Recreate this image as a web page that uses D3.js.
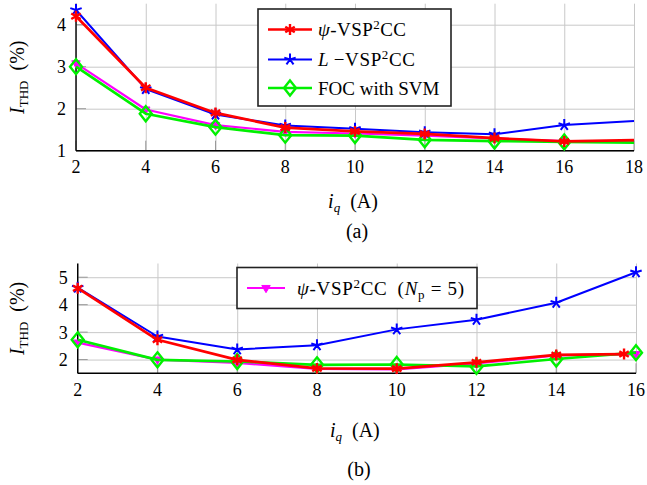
<!DOCTYPE html>
<html><head><meta charset="utf-8">
<script src="https://cdn.jsdelivr.net/npm/d3@7"></script>
<style>
body{margin:0;background:#fff}
</style></head><body>
<svg id="c" width="647" height="485"></svg>
<script>
// (a) THD versus q-axis current, 2..18 A
const xTop = [2, 4, 6, 8, 10, 12, 14, 16, 18];
const topPsi   = [4.20, 2.50, 1.90, 1.55, 1.46, 1.40, 1.30, 1.22, 1.25];
const topL     = [4.35, 2.47, 1.86, 1.60, 1.52, 1.44, 1.39, 1.61, 1.71];
const topFOC   = [3.00, 1.88, 1.56, 1.37, 1.36, 1.26, 1.23, 1.21, 1.19];
const topPsiNp = [3.08, 1.98, 1.61, 1.45, 1.41, 1.36, 1.29, 1.23, 1.21];

// (b) THD versus q-axis current, 2..16 A
const xBot = [2, 4, 6, 8, 10, 12, 14, 16];
const xBotPsi = [2, 4, 6, 8, 10, 12, 14, 15.7];
const botPsi   = [4.60, 2.72, 1.99, 1.68, 1.67, 1.90, 2.17, 2.20];
const botL     = [4.62, 2.84, 2.37, 2.52, 3.10, 3.45, 4.07, 5.18];
const botFOC   = [2.72, 1.99, 1.93, 1.81, 1.82, 1.75, 2.02, 2.25];
const botPsiNp = [2.62, 2.00, 1.88, 1.66, 1.64, 1.86, 2.15, 2.20];

const xTicksTop = [2, 4, 6, 8, 10, 12, 14, 16, 18];
const yTicksTop = [1, 2, 3, 4];
const xTicksBot = [2, 4, 6, 8, 10, 12, 14, 16];
const yTicksBot = [2, 3, 4, 5];

const FONT = '"Liberation Serif"';
const svg = d3.select("#c");

// pgfplots-like marker shapes
const symAsterisk = {draw(ctx, size){ const r = Math.sqrt(size);
  for (let k = 0; k < 3; k++){ const a = Math.PI/2 + k*Math.PI/3;
    ctx.moveTo(r*Math.cos(a), r*Math.sin(a)); ctx.lineTo(-r*Math.cos(a), -r*Math.sin(a)); } }};
const symStar = {draw(ctx, size){ const r = Math.sqrt(size);
  for (let k = 0; k < 5; k++){ const a = -Math.PI/2 + k*2*Math.PI/5;
    ctx.moveTo(0, 0); ctx.lineTo(r*Math.cos(a), r*Math.sin(a)); } }};
const symDiamond = {draw(ctx, size){ const r = Math.sqrt(size), w = r*0.8;
  ctx.moveTo(0, -r); ctx.lineTo(w, 0); ctx.lineTo(0, r); ctx.lineTo(-w, 0); ctx.closePath(); }};
const symTriDown = {draw(ctx, size){ const r = Math.sqrt(size);
  ctx.moveTo(-r, -r*0.6); ctx.lineTo(r, -r*0.6); ctx.lineTo(0, r*1.1); ctx.closePath(); }};

const styles = {
  psi:   {color: "#ff0000", lw: 2.7, sym: symAsterisk, size: 30, fill: "none", mw: 2.4},
  L:     {color: "#0000ff", lw: 2.0, sym: symStar,     size: 36, fill: "none", mw: 2.0},
  foc:   {color: "#00f000", lw: 2.7, sym: symDiamond,  size: 56, fill: "none", mw: 2.4},
  psiNp: {color: "#ff00ff", lw: 2.2, sym: symTriDown,  size: 18, fill: "#ff00ff", mw: 1.0}
};

function txt(sel){ return sel.append("text").style("font-family", FONT).attr("fill", "#000"); }

function panel(cfg){
  const g = svg.append("g");
  const x = d3.scaleLinear().domain(cfg.xDom).range(cfg.xRange);
  const y = d3.scaleLinear().domain(cfg.yDom).range(cfg.yRange);
  const [x0, x1] = cfg.xRange, [yb, yt] = cfg.yRange;

  // grid
  g.append("g").attr("transform", `translate(0,${yb})`)
    .call(d3.axisBottom(x).tickValues(cfg.xTicks).tickSize(-(yb - yt)).tickFormat(""))
    .call(s => s.select(".domain").remove())
    .call(s => s.selectAll("line").attr("stroke", "#c8c8c8").attr("stroke-width", 1));
  g.append("g").attr("transform", `translate(${x0},0)`)
    .call(d3.axisLeft(y).tickValues(cfg.yTicks).tickSize(-(x1 - x0)).tickFormat(""))
    .call(s => s.select(".domain").remove())
    .call(s => s.selectAll("line").attr("stroke", "#c8c8c8").attr("stroke-width", 1));

  // short inner ticks
  g.append("g").selectAll("line").data(cfg.yTicks).join("line")
    .attr("x1", x0).attr("x2", x0 + 10).attr("y1", d => y(d)).attr("y2", d => y(d))
    .attr("stroke", "#999").attr("stroke-width", 1);
  g.append("g").selectAll("line").data(cfg.xTicks).join("line")
    .attr("x1", d => x(d)).attr("x2", d => x(d)).attr("y1", yb).attr("y2", yb - 10)
    .attr("stroke", "#999").attr("stroke-width", 1);

  // axis lines (left and bottom only)
  g.append("line").attr("x1", x0).attr("x2", x0).attr("y1", yt).attr("y2", yb)
    .attr("stroke", "#000").attr("stroke-width", 1.4);
  g.append("line").attr("x1", x0).attr("x2", x1).attr("y1", yb).attr("y2", yb)
    .attr("stroke", "#000").attr("stroke-width", 1.4);

  // tick labels
  cfg.xTicks.forEach(d => txt(g).attr("x", x(d)).attr("y", yb + 22.5)
    .attr("text-anchor", "middle").attr("font-size", 18).text(d));
  cfg.yTicks.forEach(d => txt(g).attr("x", x0 - 10).attr("y", y(d) + 6.5)
    .attr("text-anchor", "end").attr("font-size", 18).text(d));

  // y label: I_THD (%)
  const yl = txt(g)
    .attr("transform", `translate(24,${(yb + yt) / 2}) rotate(-90)`)
    .attr("text-anchor", "middle").attr("font-size", 20);
  yl.append("tspan").attr("font-style", "italic").text("I");
  yl.append("tspan").attr("font-size", 13).attr("dy", 4).text("THD");
  yl.append("tspan").attr("dy", -4).text("\u2002(%)");

  // x label: i_q (A)
  const xl = txt(g).attr("x", (x0 + x1) / 2 - 2).attr("y", cfg.xLabelY)
    .attr("text-anchor", "middle").attr("font-size", 20);
  xl.append("tspan").attr("font-style", "italic").text("i");
  xl.append("tspan").attr("font-style", "italic").attr("font-size", 13).attr("dy", 4).text("q");
  xl.append("tspan").attr("dy", -4).text("\u2002(A)");

  // caption
  txt(g).attr("x", cfg.capX).attr("y", cfg.capY).attr("text-anchor", "middle")
    .attr("font-size", 20).text(cfg.caption);

  // series
  const line = d3.line().x(d => x(d[0])).y(d => y(d[1]));
  cfg.series.forEach(s => {
    const st = styles[s.key];
    const pts = s.xs.map((v, i) => [v, s.ys[i]]);
    g.append("path").datum(pts).attr("d", line).attr("fill", "none")
      .attr("stroke", st.color).attr("stroke-width", st.lw).attr("stroke-linejoin", "round");
    g.append("g").selectAll("path").data(pts.filter(p => p[0] < cfg.xDom[1] || cfg.markEnd))
      .join("path")
      .attr("transform", p => `translate(${x(p[0])},${y(p[1])})`)
      .attr("d", d3.symbol().type(st.sym).size(st.size))
      .attr("fill", st.fill).attr("stroke", st.color).attr("stroke-width", st.mw)
      .attr("stroke-linejoin", "miter");
  });
  return g;
}

function legend(box, entries){
  const g = svg.append("g");
  g.append("rect").attr("x", box.x).attr("y", box.y).attr("width", box.w).attr("height", box.h)
    .attr("fill", "#fff").attr("stroke", "#222").attr("stroke-width", 1.6);
  entries.forEach(e => {
    const st = styles[e.key];
    g.append("line").attr("x1", box.lx0).attr("x2", box.lx1).attr("y1", e.y).attr("y2", e.y)
      .attr("stroke", st.color).attr("stroke-width", st.lw);
    g.append("path").attr("transform", `translate(${(box.lx0 + box.lx1) / 2},${e.y})`)
      .attr("d", d3.symbol().type(st.sym).size(st.size))
      .attr("fill", st.fill).attr("stroke", st.color).attr("stroke-width", st.mw);
    const t = txt(g).attr("x", box.tx).attr("y", e.y + 6.5).attr("font-size", 19);
    e.parts.forEach(p => {
      const ts = t.append("tspan").text(p.t);
      if (p.it) ts.attr("font-style", "italic");
      if (p.sup) ts.attr("font-size", 13).attr("dy", -7);
      if (p.sub) ts.attr("font-size", 13).attr("dy", 4);
      if (p.dy) ts.attr("dy", p.dy);
    });
    if (e.len) t.attr("textLength", e.len).attr("lengthAdjust", "spacing");
  });
}

const vspParts = (lead, sep) => [
  {t: lead, it: true}, {t: sep}, {t: "VSP"}, {t: "2", sup: true}, {t: "CC", dy: 7}
];

panel({
  xDom: [2, 18], xRange: [76, 634], yDom: [1, 4.5], yRange: [150.7, 3.7],
  xTicks: xTicksTop, yTicks: yTicksTop, xLabelY: 208, capX: 357, capY: 238, caption: "(a)",
  markEnd: false,
  series: [
    {key: "psiNp", xs: xTop, ys: topPsiNp},
    {key: "foc",   xs: xTop, ys: topFOC},
    {key: "L",     xs: xTop, ys: topL},
    {key: "psi",   xs: xTop, ys: topPsi}
  ]
});

panel({
  xDom: [2, 16], xRange: [77.7, 636], yDom: [1.5, 5.5], yRange: [373.3, 263.5],
  xTicks: xTicksBot, yTicks: yTicksBot, xLabelY: 437, capX: 359, capY: 476, caption: "(b)",
  markEnd: true,
  series: [
    {key: "psiNp", xs: xBot,    ys: botPsiNp},
    {key: "foc",   xs: xBot,    ys: botFOC},
    {key: "L",     xs: xBot,    ys: botL},
    {key: "psi",   xs: xBotPsi, ys: botPsi}
  ]
});

legend({x: 258, y: 9, w: 193, h: 97, lx0: 268, lx1: 312, tx: 318}, [
  {key: "psi", y: 29.5, len: 88, parts: vspParts("\u03c8", "-")},
  {key: "L",   y: 59.5, len: 97, parts: vspParts("L", "\u2009\u2212")},
  {key: "foc", y: 88,   parts: [{t: "FOC with SVM"}]}
]);

legend({x: 237, y: 267.5, w: 240, h: 41, lx0: 247, lx1: 285, tx: 297}, [
  {key: "psiNp", y: 288, len: 167, parts: [
    {t: "\u03c8", it: true}, {t: "-VSP"}, {t: "2", sup: true}, {t: "CC\u2002(", dy: 7},
    {t: "N", it: true}, {t: "p", sub: true}, {t: " = 5)", dy: -4}
  ]}
]);
</script>
</body></html>
